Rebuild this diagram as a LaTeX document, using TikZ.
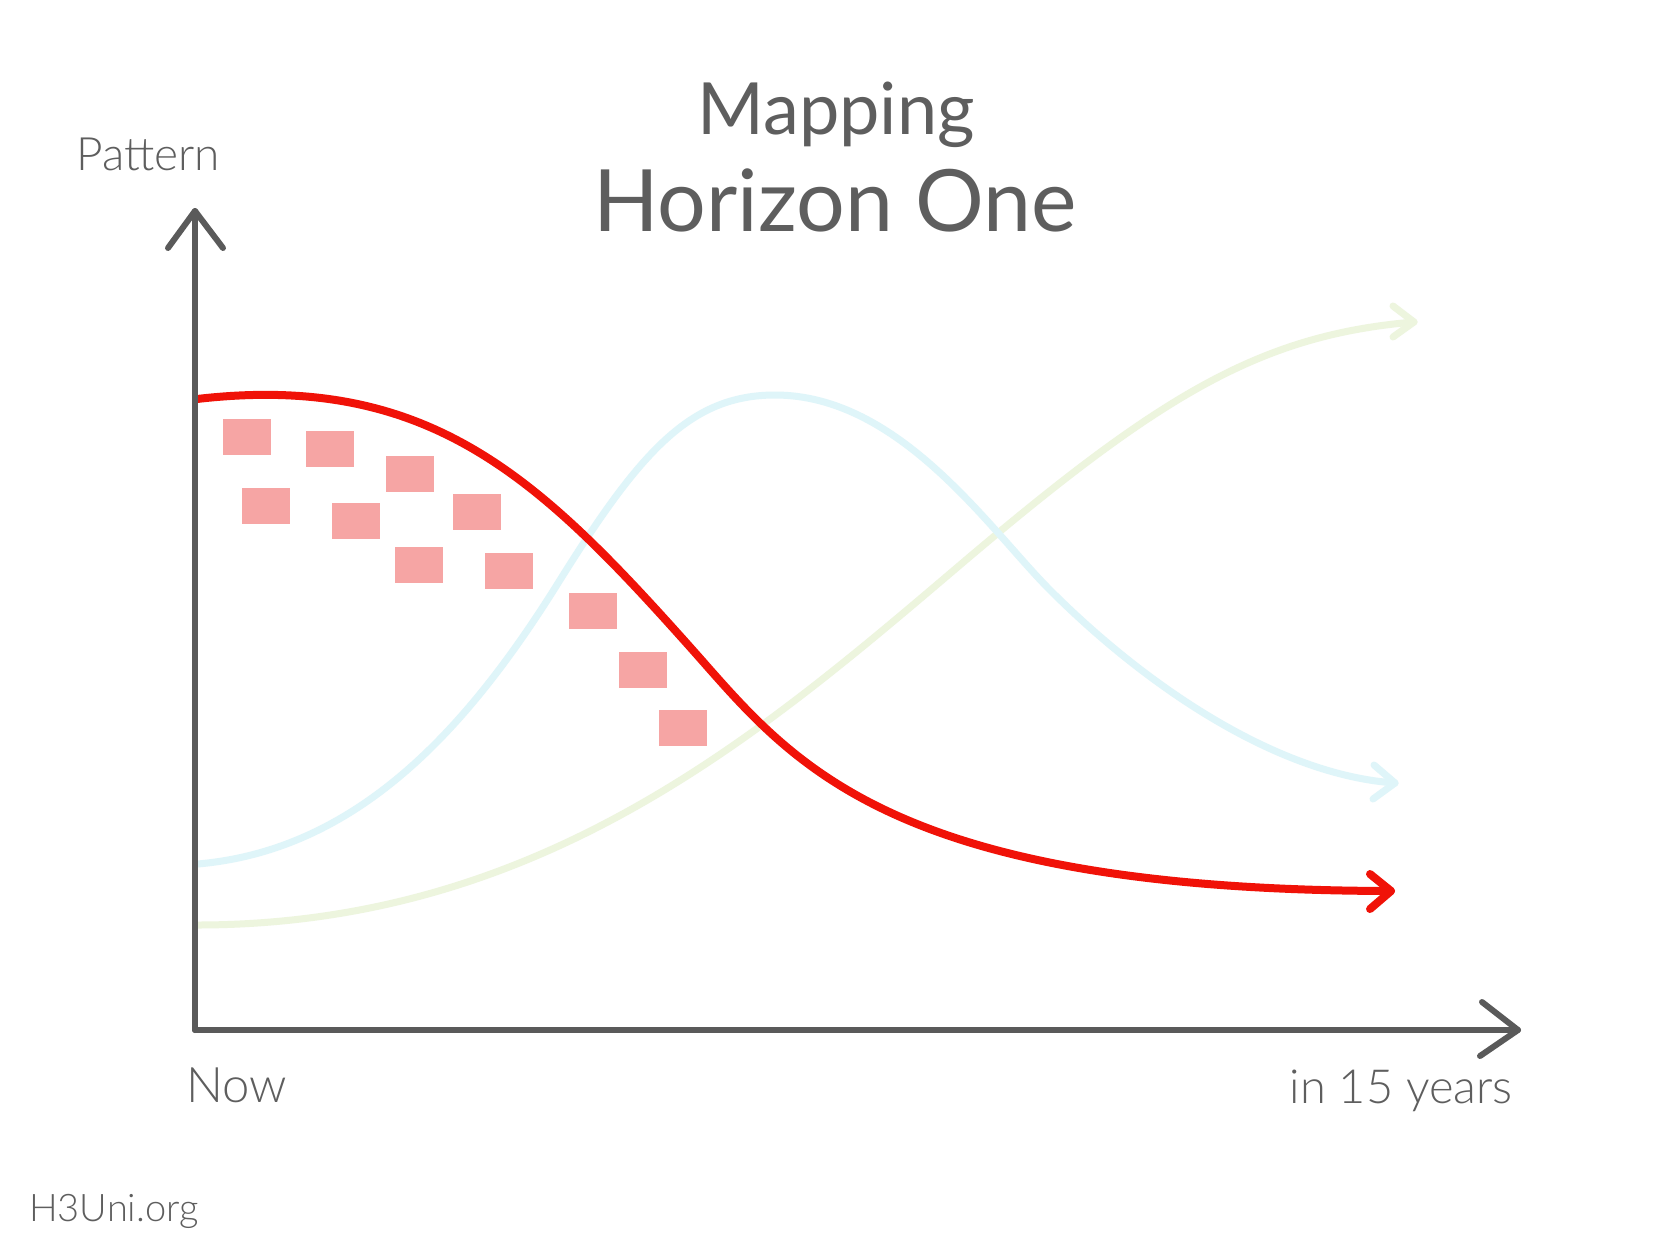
\documentclass[tikz,border=0pt]{standalone}
\usepackage{fontspec}
\setmainfont{Lato}
\newfontfamily\lightfont{Lato Light}
\usetikzlibrary{calc}
\definecolor{axisgray}{HTML}{5A5A5A}
\definecolor{textgray}{HTML}{5E5E5E}
\definecolor{hred}{HTML}{F01208}
\definecolor{hblue}{HTML}{DFF5F9}
\definecolor{hgreen}{HTML}{EDF5DE}
\definecolor{notepink}{HTML}{F6A5A4}
\tikzset{
  axisline/.style={draw=axisgray, line width=6pt, line cap=round, line join=round},
  redline/.style={draw=hred, line width=8pt, line cap=round, line join=round},
  blueline/.style={draw=hblue, line width=7pt, line cap=round, line join=round},
  greenline/.style={draw=hgreen, line width=7pt, line cap=round, line join=round},
  note/.style={fill=notepink, draw=none, minimum width=48pt, minimum height=36pt, inner sep=0pt},
  lbl/.style={text=textgray, inner sep=0pt}
}
\begin{document}
\begin{tikzpicture}[x=1pt,y=-1pt]
\useasboundingbox (0,0) rectangle (1667,1250);
\fill[white] (0,0) rectangle (1667,1250);

% titles
\node[lbl, anchor=base, font=\fontsize{72}{78}\selectfont] (t1) at (836,134) {Mapping};
\node[lbl, anchor=base, font=\fontsize{86}{90}\selectfont] (t2) at (835,231) {Horizon One};

% axis labels
\node[lbl, anchor=base, font=\lightfont\fontsize{46}{50}\selectfont] (ylab) at (148,170) {Pattern};
\node[lbl, anchor=base west, font=\lightfont\fontsize{49}{52}\selectfont] (now) at (186,1102) {Now};
\node[lbl, anchor=base east, font=\lightfont\fontsize{47}{52}\selectfont] (later) at (1513,1103) {in 15 years};
\node[lbl, anchor=base west, font=\lightfont\fontsize{38}{42}\selectfont] (site) at (29,1221) {H3Uni.org};

% sticky notes
\node[note] (n1) at (246.8,436.5) {};
\node[note] (n2) at (330,449) {};
\node[note] (n3) at (410,474) {};
\node[note] (n4) at (265.5,506) {};
\node[note] (n5) at (355.5,521) {};
\node[note] (n6) at (477,512) {};
\node[note] (n7) at (419,565) {};
\node[note] (n8) at (509.3,571) {};
\node[note] (n9) at (593,611) {};
\node[note] (n10) at (643.3,670) {};
\node[note] (n11) at (683.4,728.4) {};

% green curve
\coordinate (g0) at (197,925);
\coordinate (gm) at (960,565);
\coordinate (gt) at (1414,322);
\draw[greenline] (g0) .. controls (540,925) and (760,735) .. (gm)
  .. controls (1160,395) and (1260,335) .. (gt);
\draw[greenline] ($(gt)+(-21,-16)$) -- (gt) -- ($(gt)+(-21,15)$);

% blue curve
\coordinate (b0) at (197.6,864);
\coordinate (b1) at (560,580);
\coordinate (bp) at (775,395);
\coordinate (b2) at (1050,590);
\coordinate (bt) at (1395,783);
\draw[blueline] (b0) .. controls (360,850) and (470,725) .. (b1)
  .. controls (640,452) and (690,395) .. (bp)
  .. controls (900,395) and (990,530) .. (b2)
  .. controls (1150,690) and (1280,775) .. (bt);
\draw[blueline] ($(bt)+(-21,-18)$) -- (bt) -- ($(bt)+(-22,16)$);

% red curve
\coordinate (r0) at (197,399);
\coordinate (rm) at (690,647);
\coordinate (rt) at (1391,891);
\draw[redline] (r0) .. controls (430,372) and (540,479) .. (rm)
  .. controls (790,759) and (880,890) .. (rt);
\draw[redline] ($(rt)+(-21,-17)$) -- (rt) -- ($(rt)+(-21,18)$);

% axes
\coordinate (origin) at (195,1030);
\coordinate (ytip) at (195,211);
\coordinate (xtip) at (1518,1030);
\draw[axisline] (origin) -- (ytip);
\draw[axisline] ($(ytip)+(-27,37)$) -- (ytip) -- ($(ytip)+(28,37)$);
\draw[axisline] (origin) -- (xtip);
\draw[axisline] ($(xtip)+(-36,-28)$) -- (xtip) -- ($(xtip)+(-38,26)$);
\end{tikzpicture}
\end{document}
